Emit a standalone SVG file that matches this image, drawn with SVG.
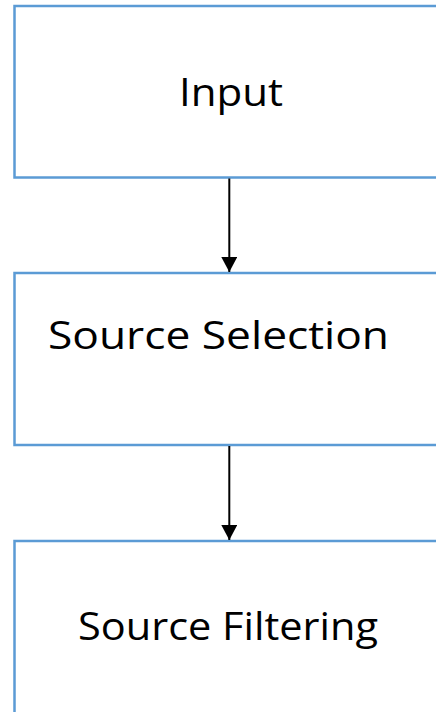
<svg xmlns="http://www.w3.org/2000/svg" width="436" height="712" viewBox="0 0 436 712">
  <style>
    .box { fill: #ffffff; stroke: #5b9bd5; stroke-width: 2.5; }
    .label { font-family: "Open Sans", "Liberation Sans", Arial, sans-serif; font-size: 38px; fill: #000000; }
    .conn { stroke: #000000; stroke-width: 2; fill: none; }
  </style>
  <defs>
    <marker id="arrow" markerWidth="7.5" markerHeight="8" refX="7.5" refY="4" orient="auto" markerUnits="strokeWidth">
      <path d="M0,0 L7.5,4 L0,8 Z" fill="#000000"/>
    </marker>
  </defs>
  <rect width="436" height="712" fill="#ffffff"/>

  <g id="node-input">
    <rect class="box" x="14.5" y="6" width="440" height="171.5"/>
    <text class="label" x="179" y="106" textLength="104" lengthAdjust="spacingAndGlyphs">Input</text>
  </g>

  <g id="node-source-selection">
    <rect class="box" x="14.5" y="273" width="440" height="172"/>
    <text class="label" x="48" y="349" textLength="341" lengthAdjust="spacingAndGlyphs">Source Selection</text>
  </g>

  <g id="node-source-filtering">
    <rect class="box" x="14.5" y="541" width="440" height="200"/>
    <text class="label" x="78" y="640" textLength="300" lengthAdjust="spacingAndGlyphs">Source Filtering</text>
  </g>

  <g id="connectors">
    <line class="conn" x1="229.3" y1="178.5" x2="229.3" y2="272" marker-end="url(#arrow)"/>
    <line class="conn" x1="229.3" y1="446" x2="229.3" y2="540" marker-end="url(#arrow)"/>
  </g>
</svg>
